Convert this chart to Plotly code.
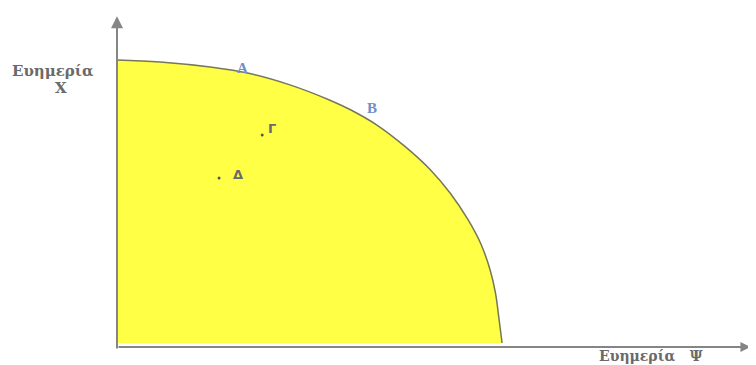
import plotly.graph_objects as go

# Frontier (utility possibility curve): welfare Ψ (x) vs welfare X (y)
frontier_psi = [0, 1.12, 2.42, 3.45, 4.49, 5.53, 6.05, 6.75, 7.5, 8.13, 8.65, 9.12, 9.45, 9.69, 9.83, 9.92, 10]
frontier_x = [10, 9.93, 9.75, 9.52, 9.12, 8.58, 8.25, 7.70, 6.92, 6.13, 5.30, 4.35, 3.50, 2.58, 1.75, 0.85, 0]

# Labelled points inside the set
point_names = ["Γ", "Δ"]
point_psi = [3.77, 2.65]
point_x = [7.35, 5.83]

# Labels on the frontier
curve_labels = ["A", "B"]
curve_label_psi = [3.27, 6.62]
curve_label_x = [9.72, 8.30]

# Axis titles
y_title_lines = ["Ευημερία", "X"]
x_title = "Ευημερία   Ψ"

W, H = 756, 365
ML, MR, MT, MB = 109, 12, 7, 23
PW, PH = W - ML - MR, H - MT - MB
OFF = 8  # page offset of the figure (body margin)


def paper_x(page_px):
    return (page_px - OFF - ML) / PW


def paper_y(page_py):
    return 1 - (page_py - OFF - MT) / PH


fig = go.Figure()

fig.add_trace(go.Scatter(
    x=frontier_psi, y=frontier_x, mode="lines",
    line=dict(color="#76765a", width=1.5, shape="spline", smoothing=1.0),
    fill="tozeroy", fillcolor="#ffff45", hoverinfo="skip", showlegend=False))

fig.add_trace(go.Scatter(
    x=point_psi, y=point_x, mode="markers",
    marker=dict(color="#555555", size=3), showlegend=False, hoverinfo="skip"))

grey = "#6a6a6a"
title_font = "DejaVu Serif"
annotations = []
annotations.append(dict(x=point_psi[0] + 0.1, y=point_x[0] + 0.22, text="<b>" + point_names[0] + "</b>",
                        showarrow=False, xanchor="left", yanchor="middle",
                        font=dict(size=13, family="DejaVu Sans", color=grey)))
annotations.append(dict(x=point_psi[1] + 0.3, y=point_x[1] + 0.12, text="<b>" + point_names[1] + "</b>",
                        showarrow=False, xanchor="left", yanchor="middle",
                        font=dict(size=13, family="DejaVu Sans", color=grey)))
for name, px, py in zip(curve_labels, curve_label_psi, curve_label_x):
    annotations.append(dict(x=px, y=py, text="<b>" + name + "</b>", showarrow=False,
                            xanchor="center", yanchor="middle",
                            font=dict(size=15, family="Liberation Serif", color="#6f8fc8")))

annotations.append(dict(xref="paper", yref="paper", x=paper_x(53), y=paper_y(71),
                        xanchor="center", yanchor="middle",
                        text="<b>" + y_title_lines[0] + "</b>", showarrow=False,
                        font=dict(size=15, family=title_font, color=grey)))
annotations.append(dict(xref="paper", yref="paper", x=paper_x(61), y=paper_y(88),
                        xanchor="center", yanchor="middle",
                        text="<b>" + y_title_lines[1] + "</b>", showarrow=False,
                        font=dict(size=15, family=title_font, color=grey)))
annotations.append(dict(xref="paper", yref="paper", x=paper_x(651), y=paper_y(356),
                        xanchor="center", yanchor="middle",
                        text="<b>" + x_title + "</b>", showarrow=False,
                        font=dict(size=14, family=title_font, color=grey)))

# Axis arrows
annotations.append(dict(x=0, y=11.55, ax=0, ay=-0.25, xref="x", yref="y", axref="x", ayref="y",
                        showarrow=True, arrowhead=2, arrowsize=1.2, arrowwidth=2,
                        arrowcolor="#858585", text=""))
annotations.append(dict(x=16.45, y=-0.14, ax=0, ay=-0.14, xref="x", yref="y", axref="x", ayref="y",
                        showarrow=True, arrowhead=2, arrowsize=1.0, arrowwidth=2,
                        arrowcolor="#858585", text=""))

fig.update_layout(
    width=W, height=H,
    margin=dict(l=ML, r=MR, t=MT, b=MB),
    paper_bgcolor="white", plot_bgcolor="white",
    xaxis=dict(range=[0, 16.49], visible=False, fixedrange=True),
    yaxis=dict(range=[-0.247, 11.59], visible=False, fixedrange=True),
    annotations=annotations,
    showlegend=False,
)

fig.write_html("out.html")
